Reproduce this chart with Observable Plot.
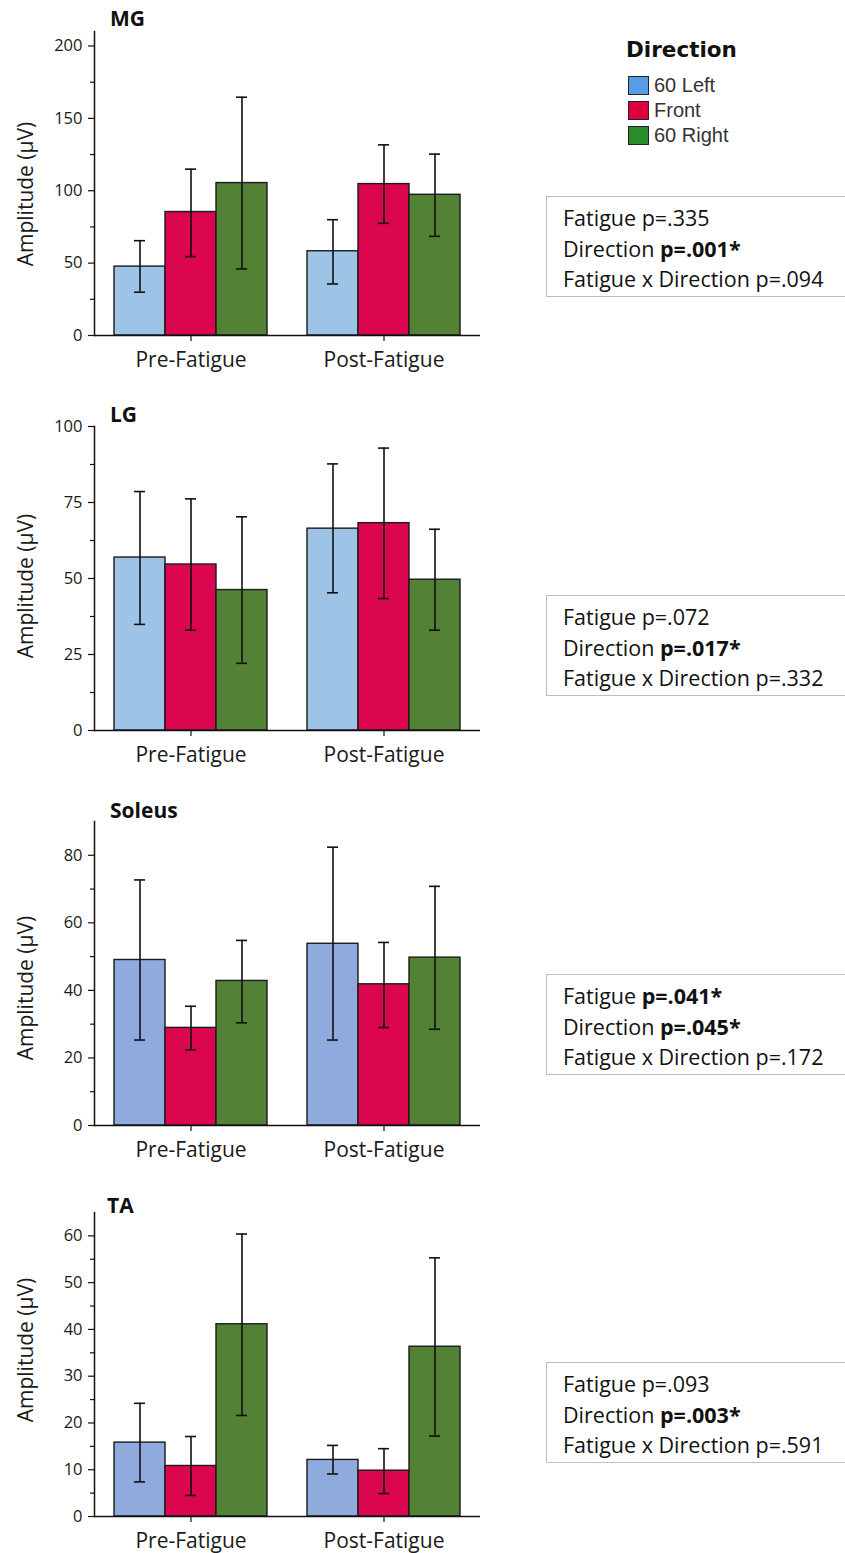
<!DOCTYPE html>
<html>
<head>
<meta charset="utf-8">
<script src="https://cdn.jsdelivr.net/npm/d3@7"></script>
<script src="https://cdn.jsdelivr.net/npm/@observablehq/plot@0.6"></script>
<style>
  html, body { margin: 0; padding: 0; background: #fff; }
  body { width: 845px; height: 1553px; overflow: hidden; position: relative; font-family: "Open Sans", sans-serif; color: #1a1a1a; }
  .panel { position: absolute; left: 0; }
  .title { position: absolute; font-weight: bold; font-size: 21px; line-height: 24px; color: #111; }
  .ylabel { position: absolute; left: 25px; font-size: 21px; white-space: nowrap; transform: translate(-50%, -50%) rotate(-90deg); color: #1a1a1a; }
  .stat { position: absolute; left: 546px; width: 320px; height: 101px; border: 1.5px solid #bdbdbd; box-sizing: border-box; padding: 6px 0 0 16px; font-size: 21.5px; line-height: 30.5px; color: #111; }
  .stat b { font-weight: bold; }
  .legend { position: absolute; left: 626px; top: 38px; font-family: "Liberation Sans", Arial, sans-serif; }
  .legend .lt { font-family: "DejaVu Sans", sans-serif; font-weight: bold; font-size: 21.5px; line-height: 24px; color: #111; margin-bottom: 11px; }
  .legend .row { display: flex; align-items: center; height: 25px; font-size: 20px; color: #333; }
  .legend .sw { width: 19px; height: 17px; border: 1.5px solid #222; margin: 0 5px 0 2px; box-sizing: content-box; }
</style>
</head>
<body>
<script>
// ---- data ----
const groups = ["Pre-Fatigue", "Post-Fatigue"];
const directions = ["60 Left", "Front", "60 Right"];
const muscles = ["MG", "LG", "Soleus", "TA"];

// order: Pre (60 Left, Front, 60 Right), Post (60 Left, Front, 60 Right)
const mgMean = [47.6, 85.3, 105.3, 58.2, 104.6, 97.2];
const mgLow  = [29.9, 54.5, 46.0, 35.6, 77.5, 68.5];
const mgHigh = [65.5, 114.9, 164.6, 80.0, 131.7, 125.3];

const lgMean = [56.9, 54.6, 46.2, 66.4, 68.2, 49.6];
const lgLow  = [34.9, 33.0, 22.1, 45.3, 43.4, 33.0];
const lgHigh = [78.6, 76.2, 70.3, 87.7, 92.9, 66.2];

const solMean = [49.0, 28.9, 42.8, 53.8, 41.8, 49.7];
const solLow  = [25.3, 22.4, 30.4, 25.3, 29.0, 28.5];
const solHigh = [72.7, 35.3, 54.8, 82.4, 54.2, 70.8];

const taMean = [15.8, 10.8, 41.1, 12.1, 9.8, 36.3];
const taLow  = [7.4, 4.5, 21.6, 9.1, 4.9, 17.2];
const taHigh = [24.2, 17.1, 60.4, 15.2, 14.5, 55.3];

// y axes
const mgTicks = [0, 50, 100, 150, 200],  mgMinor = [25, 75, 125, 175],  mgMax = 210;
const lgTicks = [0, 25, 50, 75, 100],    lgMinor = [12.5, 37.5, 62.5, 87.5], lgMax = 100;
const solTicks = [0, 20, 40, 60, 80],    solMinor = [10, 30, 50, 70],   solMax = 90;
const taTicks = [0, 10, 20, 30, 40, 50, 60], taMinor = [5, 15, 25, 35, 45, 55], taMax = 65;

// statistics
const fatigueP = [".335", ".072", ".041", ".093"];
const directionP = [".001", ".017", ".045", ".003"];
const interactionP = [".094", ".332", ".172", ".591"];

// colours
const leftColors = ["#9DC3E6", "#9DC3E6", "#8FAADC", "#8FAADC"];
const frontColor = "#DC0550";
const rightColor = "#538135";
const legendColors = ["#5A9BE8", "#E0003D", "#2A8B2A"];

// ---- layout (positions only) ----
const layout = [
  {top: 0,    titleTop: 6,    titleLeft: 110, ylab: 194,  stat: 196},
  {top: 395,  titleTop: 402,  titleLeft: 110, ylab: 586,  stat: 595},
  {top: 790,  titleTop: 798,  titleLeft: 110, ylab: 988,  stat: 974},
  {top: 1181, titleTop: 1193, titleLeft: 107, ylab: 1350, stat: 1362}
];

const series = [
  {mean: mgMean, low: mgLow, high: mgHigh, ticks: mgTicks, minor: mgMinor, max: mgMax},
  {mean: lgMean, low: lgLow, high: lgHigh, ticks: lgTicks, minor: lgMinor, max: lgMax},
  {mean: solMean, low: solLow, high: solHigh, ticks: solTicks, minor: solMinor, max: solMax},
  {mean: taMean, low: taLow, high: taHigh, ticks: taTicks, minor: taMinor, max: taMax}
];

function makePlot(s, leftColor) {
  const rows = [];
  groups.forEach((g, gi) => directions.forEach((d, di) => {
    const k = gi * 3 + di;
    rows.push({group: g, dir: d, mean: s.mean[k], low: s.low[k], high: s.high[k]});
  }));
  const ink = "#111";
  return Plot.plot({
    width: 490,
    height: 380,
    marginTop: 31,
    marginBottom: 45,
    marginLeft: 93,
    marginRight: 10,
    style: {fontFamily: "Open Sans", color: "#1a1a1a", background: "transparent", overflow: "visible"},
    fx: {domain: groups, padding: 0, label: null, axis: null},
    x: {domain: directions, paddingInner: 0, paddingOuter: 0.379, axis: null},
    y: {domain: [0, s.max], axis: null},
    color: {domain: directions, range: [leftColor, frontColor, rightColor]},
    marks: [
      Plot.barY(rows, {fx: "group", x: "dir", y: "mean", fill: "dir", stroke: "#1b1b1b", strokeWidth: 1.4}),
      Plot.ruleX(rows, {fx: "group", x: "dir", y1: "low", y2: "high", stroke: ink, strokeWidth: 1.6}),
      Plot.tickY(rows, {fx: "group", x: "dir", y: "low", stroke: ink, strokeWidth: 1.6, insetLeft: 20, insetRight: 20}),
      Plot.tickY(rows, {fx: "group", x: "dir", y: "high", stroke: ink, strokeWidth: 1.6, insetLeft: 20, insetRight: 20}),
      Plot.ruleY([0], {stroke: ink, strokeWidth: 1.5}),
      Plot.axisY(s.ticks, {tickSize: 6, tickPadding: 6, fontSize: 16.5, label: null, stroke: ink, strokeWidth: 1.2}),
      Plot.axisY(s.minor, {tickSize: 4, tickFormat: () => "", label: null, stroke: ink, strokeWidth: 1.2}),
      Plot.frame({anchor: "left", facetAnchor: "left", stroke: ink, strokeWidth: 1.5}),
      Plot.axisFx({anchor: "bottom", tickSize: 6, tickPadding: 11, fontSize: 21, label: null, stroke: ink, strokeWidth: 1.2})
    ]
  });
}

function fmt(p) {
  return parseFloat("0" + p) < 0.05 ? `<b>p=${p}*</b>` : `p=${p}`;
}

muscles.forEach((m, i) => {
  const L = layout[i];
  const wrap = document.createElement("div");
  wrap.className = "panel";
  wrap.style.top = L.top + "px";
  wrap.appendChild(makePlot(series[i], leftColors[i]));
  document.body.appendChild(wrap);

  const t = document.createElement("div");
  t.className = "title";
  t.style.top = L.titleTop + "px";
  t.style.left = L.titleLeft + "px";
  t.textContent = m;
  document.body.appendChild(t);

  const yl = document.createElement("div");
  yl.className = "ylabel";
  yl.style.top = L.ylab + "px";
  yl.textContent = "Amplitude (\u00B5V)";
  document.body.appendChild(yl);

  const st = document.createElement("div");
  st.className = "stat";
  st.style.top = L.stat + "px";
  st.innerHTML = `Fatigue ${fmt(fatigueP[i])}<br>Direction ${fmt(directionP[i])}<br>Fatigue x Direction ${fmt(interactionP[i])}`;
  document.body.appendChild(st);
});

// legend
const lg = document.createElement("div");
lg.className = "legend";
lg.innerHTML = `<div class="lt">Direction</div>` +
  directions.map((d, i) => `<div class="row"><span class="sw" style="background:${legendColors[i]}"></span>${d}</div>`).join("");
document.body.appendChild(lg);
</script>
</body>
</html>
